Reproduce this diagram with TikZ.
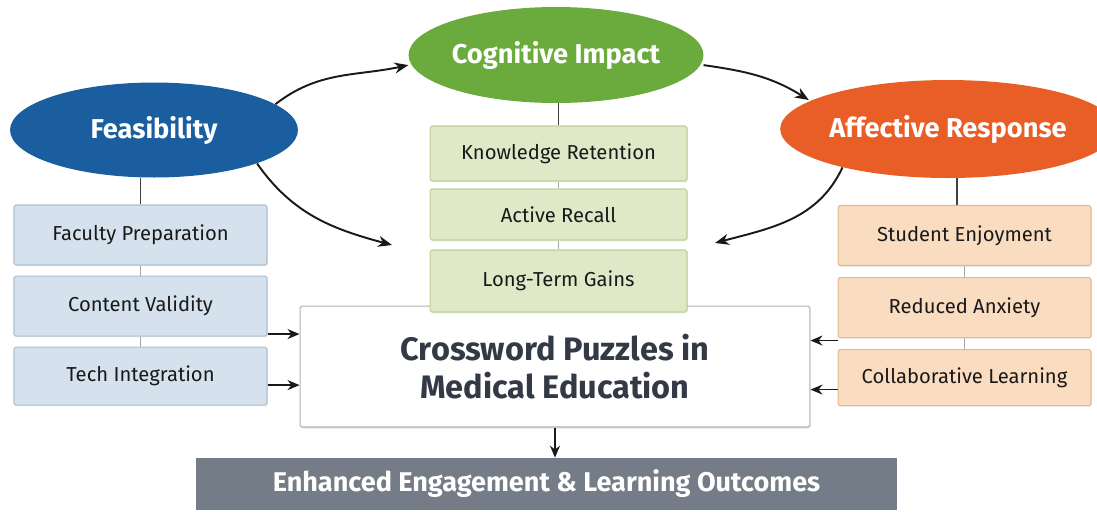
\documentclass[tikz,border=0pt]{standalone}
\usepackage{fontspec}
\setmainfont{Fira Sans}
\usepackage{tikz}
\usetikzlibrary{shapes,arrows.meta,positioning,calc,shadows}
\definecolor{feasblue}{HTML}{1B5E9F}
\definecolor{coggreen}{HTML}{6BAA3C}
\definecolor{afforange}{HTML}{E85E26}
\definecolor{bluefill}{HTML}{D5E2EE}
\definecolor{blueline}{HTML}{AEBFCF}
\definecolor{greenfill}{HTML}{DFE9C7}
\definecolor{greenline}{HTML}{BFD098}
\definecolor{orangefill}{HTML}{FADCC0}
\definecolor{orangeline}{HTML}{E3B995}
\definecolor{outgray}{HTML}{747C87}
\definecolor{inkgray}{HTML}{333A45}

\begin{document}
\begin{tikzpicture}[x=0.02cm,y=-0.02cm,
    hub/.style={ellipse,inner sep=0pt,text=white,font=\bfseries\fontsize{15.5}{18}\selectfont},
    item/.style={rectangle,draw,rounded corners=1pt,line width=0.6pt,minimum width=5.06cm,
      minimum height=1.2cm,text=black!90,font=\fontsize{11.5}{14}\selectfont,
      drop shadow={opacity=0.12,shadow xshift=0.5pt,shadow yshift=-0.8pt}},
    bitem/.style={item,fill=bluefill,draw=blueline},
    gitem/.style={item,fill=greenfill,draw=greenline,minimum width=5.14cm},
    oitem/.style={item,fill=orangefill,draw=orangeline},
    link/.style={line width=0.8pt,black!75},
    tick/.style={line width=0.5pt,black!35},
    arr/.style={-{Stealth[length=2.8mm,width=2.2mm]},line width=1.1pt,black!90},
    sarr/.style={-{Stealth[length=2.4mm,width=2mm]},line width=1pt,black!90}]
  \useasboundingbox (0,0) rectangle (1097,512);

  \node[hub,fill=feasblue,minimum width=5.76cm,minimum height=1.9cm] (feas) at (154,130) {Feasibility};
  \node[hub,fill=coggreen,minimum width=5.9cm,minimum height=1.92cm] (cog) at (556,55) {Cognitive Impact};
  \node[hub,fill=afforange,minimum width=6.08cm,minimum height=1.96cm] (aff) at (948,129) {Affective Response};

  \node[bitem] (fac) at (140.5,235) {Faculty Preparation};
  \node[bitem,below=0.2cm of fac] (valid) {Content Validity};
  \node[bitem,below=0.2cm of valid,minimum height=1.16cm] (tech) {Tech Integration};

  \node[oitem] (enjoy) at (964.5,235.5) {Student Enjoyment};
  \node[oitem,below=0.22cm of enjoy] (anx) {Reduced Anxiety};
  \node[oitem,below=0.22cm of anx,minimum height=1.12cm] (collab) {Collaborative Learning};

  \node[rectangle,draw=black!30,fill=white,line width=0.6pt,rounded corners=1pt,
    minimum width=10.2cm,minimum height=2.42cm,text=inkgray,align=center,
    font=\bfseries\fontsize{18.5}{22}\selectfont,
    drop shadow={opacity=0.15,shadow xshift=0.6pt,shadow yshift=-1pt}] (puzzle) at (555,366.5)
    {Crossword Puzzles in\\Medical Education};

  \node[gitem,minimum height=1.1cm] (retain) at (558.5,153.5) {Knowledge Retention};
  \node[gitem,minimum height=1.02cm] (recall) at (558.5,214.5) {Active Recall};
  \node[gitem,minimum height=1.24cm] (gains) at (558.5,281) {Long-Term Gains};

  \node[rectangle,fill=outgray,minimum width=14.02cm,minimum height=1.04cm,text=white,
    font=\bfseries\fontsize{15.4}{18}\selectfont] (outcome) at (546.5,484)
    {Enhanced Engagement \& Learning Outcomes};

  \draw[link] (feas.south -| fac.north) -- (fac.north);
  \draw[link] (cog.south -| retain.north) -- (retain.north);
  \draw[link] ([xshift=-0.15cm]enjoy.north |- aff.south) -- ([xshift=-0.15cm]enjoy.north);
  \foreach \a/\b in {fac/valid,valid/tech,enjoy/anx,anx/collab,retain/recall,recall/gains}
    {\draw[tick] (\a.south) -- (\b.north);}

  \coordinate (cogin) at (392,245);
  \coordinate (affin) at (715,243);
  \draw[arr] (feas.12) to[out=38,in=192] ([shift={(-3,0)}]cog.184);
  \draw[arr] (feas.-18) to[out=-55,in=165] (cogin);
  \draw[arr] ([shift={(3,0)}]cog.-4) to[out=-8,in=148] ([shift={(-3,0)}]aff.168);
  \draw[arr] (aff.200) to[out=-115,in=15] (affin);

  \draw[sarr] ([yshift=-0.56cm]valid.east) -- ([yshift=-0.56cm]valid.east -| puzzle.west);
  \draw[sarr] ([yshift=-0.18cm]tech.east) -- ([yshift=-0.18cm]tech.east -| puzzle.west);
  \draw[sarr] ([yshift=-0.66cm]anx.west) -- ([yshift=-0.66cm]anx.west -| puzzle.east);
  \draw[sarr] ([yshift=-0.24cm]collab.west) -- ([yshift=-0.24cm]collab.west -| puzzle.east);
  \draw[sarr] (puzzle.south) -- (puzzle.south |- outcome.north);
\end{tikzpicture}
\end{document}
